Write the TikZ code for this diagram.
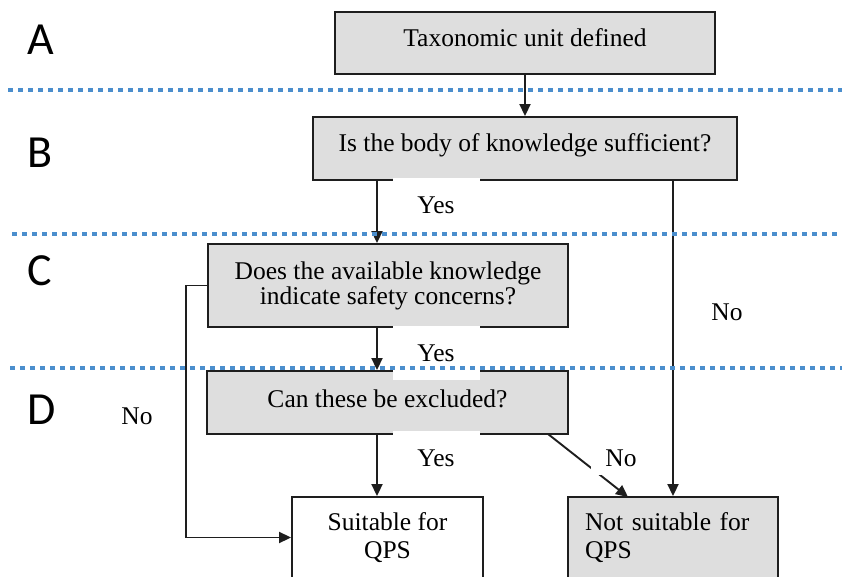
\documentclass[tikz,border=0pt]{standalone}
\usepackage{fontspec}
\setmainfont{Liberation Serif}
\newfontfamily\lettfont{Carlito}
\usetikzlibrary{arrows.meta}
\definecolor{boxgray}{RGB}{222,222,222}
\definecolor{dotblue}{RGB}{75,142,205}
\definecolor{edgecol}{RGB}{30,30,30}
\begin{document}
\begin{tikzpicture}[x=1pt,y=-1pt,
  box/.style={draw=edgecol, line width=1.9pt, fill=boxgray, inner sep=0pt,
              font=\fontsize{25.5}{28}\selectfont, align=center},
  wbox/.style={box, fill=white},
  arr/.style={draw=edgecol, line width=1.9pt, -{Triangle[length=12pt,width=11pt]}},
  lab/.style={fill=white, font=\fontsize{25.5}{28}\selectfont, inner sep=0pt},
  yeslab/.style={lab, minimum width=87pt, minimum height=54pt},
  letter/.style={font=\lettfont\fontsize{46}{50}\selectfont, anchor=west, inner sep=0pt},
  sep/.style={draw=dotblue, line width=4pt, dash pattern=on 5pt off 5pt}]

\clip (0,0) rectangle (842,577);
\fill[white] (0,0) rectangle (842,577);

% section letters
\node[letter] (LA) at (27,40) {A};
\node[letter] (LB) at (27,153) {B};
\node[letter] (LC) at (27,271) {C};
\node[letter] (LD) at (27,410) {D};

% boxes
\node[box, minimum width=380pt, minimum height=62pt, text depth=11pt] (A) at (525,43) {Taxonomic unit defined};
\node[box, minimum width=424pt, minimum height=63pt, text depth=11pt] (B) at (525,148.5) {Is the body of knowledge sufficient?};
\node[box, minimum width=360pt, minimum height=83pt, font=\fontsize{25.5}{25}\selectfont] (C) at (388,285.5) {Does the available knowledge\\indicate safety concerns?};
\node[box, minimum width=361pt, minimum height=63pt, text depth=8pt] (D) at (387.5,402.5) {Can these be excluded?};
\node[wbox, minimum width=191pt, minimum height=81pt] (S) at (387.5,537.5) {Suitable for\\QPS};
\node[box, minimum height=81pt, text width=176pt, inner xsep=17pt, align=left] (N) at (673,537.5) {\mbox{Not suitable for}\\\mbox{QPS}};

\coordinate (colx) at (377,0);
\coordinate (dA) at (548,434);
\coordinate (dB) at (628,497);

% connectors
\draw[arr] (A.south) -- (B.north);
\draw[arr] (B.south -| colx) -- (C.north -| colx);
\draw[arr] (B.south -| N.north) -- (N.north);
\draw[arr] (C.south -| colx) -- (D.north -| colx);
\draw[arr] (D.south -| colx) -- (S.north -| colx);
\draw[arr] (C.west) -- ++(-21,0) |- (S.west);
\draw[arr] (dA) -- (dB);

% labels
\node[yeslab] (Y1) at (436,205) {Yes};
\node[yeslab] (Y2) at (436,353) {Yes};
\node[yeslab] (Y3) at (436,458) {Yes};
\node[lab, minimum width=60pt, minimum height=34pt] (NoR) at (727,312) {No};
\node[lab, minimum width=60pt, minimum height=34pt] (NoL) at (137,416) {No};
\node[lab, minimum width=60pt, minimum height=34pt] (NoD) at (621,458) {No};

% separators
\draw[sep] (8,90) -- (842,90);
\draw[sep] (12,234) -- (842,234);
\draw[sep] (10,368) -- (842,368);
\end{tikzpicture}
\end{document}
